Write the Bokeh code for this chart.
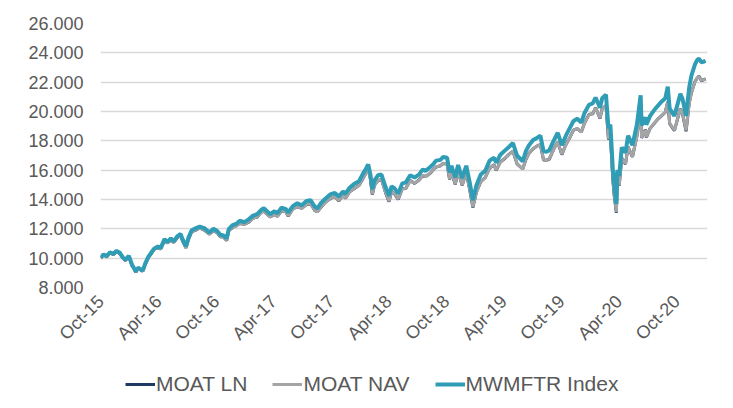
from datetime import datetime
from bokeh.plotting import figure
from bokeh.layouts import column
from bokeh.models import FixedTicker, Legend, LegendItem, Range1d, ColumnDataSource
from bokeh.embed import file_html
from bokeh.resources import INLINE

# ---------------- data ----------------
dates = [
    "2015-10-01", "2015-10-09", "2015-10-20", "2015-10-30", "2015-11-10", "2015-11-20", "2015-12-01", "2015-12-10", "2015-12-18", "2015-12-29",
    "2016-01-08", "2016-01-15", "2016-01-20", "2016-01-27", "2016-02-05", "2016-02-11", "2016-02-19", "2016-02-29", "2016-03-08", "2016-03-18",
    "2016-03-30", "2016-04-08", "2016-04-20", "2016-04-29", "2016-05-10", "2016-05-19", "2016-05-31", "2016-06-10", "2016-06-16", "2016-06-27",
    "2016-07-05", "2016-07-15", "2016-07-29", "2016-08-10", "2016-08-24", "2016-09-09", "2016-09-22", "2016-10-04", "2016-10-14", "2016-10-24",
    "2016-11-03", "2016-11-10", "2016-11-22", "2016-12-05", "2016-12-14", "2016-12-30", "2017-01-12", "2017-01-26", "2017-02-08", "2017-02-21",
    "2017-03-01", "2017-03-21", "2017-04-04", "2017-04-13", "2017-04-26", "2017-05-10", "2017-05-17", "2017-06-01", "2017-06-15", "2017-06-29",
    "2017-07-14", "2017-07-27", "2017-08-10", "2017-08-18", "2017-08-29", "2017-09-12", "2017-09-28", "2017-10-12", "2017-10-25", "2017-11-07",
    "2017-11-15", "2017-11-28", "2017-12-12", "2017-12-28", "2018-01-09", "2018-01-19", "2018-01-26", "2018-02-02", "2018-02-08", "2018-02-15",
    "2018-02-26", "2018-03-09", "2018-03-22", "2018-04-02", "2018-04-10", "2018-04-20", "2018-05-01", "2018-05-14", "2018-05-25", "2018-06-08",
    "2018-06-22", "2018-07-06", "2018-07-18", "2018-07-27", "2018-08-10", "2018-08-22", "2018-08-29", "2018-09-12", "2018-09-21", "2018-10-03",
    "2018-10-11", "2018-10-17", "2018-10-29", "2018-11-07", "2018-11-20", "2018-12-03", "2018-12-14", "2018-12-24", "2019-01-04", "2019-01-18",
    "2019-02-01", "2019-02-15", "2019-03-01", "2019-03-08", "2019-03-21", "2019-04-05", "2019-04-18", "2019-04-30", "2019-05-13", "2019-05-31",
    "2019-06-10", "2019-06-20", "2019-07-03", "2019-07-15", "2019-07-26", "2019-08-05", "2019-08-14", "2019-08-23", "2019-09-06", "2019-09-19",
    "2019-10-02", "2019-10-15", "2019-10-28", "2019-11-08", "2019-11-20", "2019-12-03", "2019-12-13", "2019-12-27", "2020-01-08", "2020-01-17",
    "2020-01-31", "2020-02-07", "2020-02-19", "2020-02-27", "2020-03-04", "2020-03-12", "2020-03-16", "2020-03-23", "2020-03-26", "2020-04-01",
    "2020-04-09", "2020-04-21", "2020-04-29", "2020-05-13", "2020-05-27", "2020-06-08", "2020-06-11", "2020-06-23", "2020-06-26", "2020-07-08",
    "2020-07-21", "2020-07-31", "2020-08-12", "2020-08-25", "2020-09-02", "2020-09-08", "2020-09-23", "2020-10-12", "2020-10-19", "2020-10-30",
    "2020-11-09", "2020-11-16", "2020-11-27", "2020-12-04", "2020-12-10", "2020-12-18", "2020-12-31",
]

mwmftr_index = [
    10050, 10250, 10150, 10400, 10300, 10500, 10350, 10050, 9900, 10150,
    9550, 9300, 9100, 9350, 9250, 9150, 9650, 10100, 10350, 10650,
    10800, 10700, 11300, 11100, 11350, 11150, 11500, 11650, 11300, 10800,
    11400, 11900, 12050, 12150, 12050, 11750, 12000, 11850, 11600, 11550,
    11350, 12000, 12250, 12350, 12550, 12450, 12650, 12900, 13000, 13300,
    13400, 13000, 13200, 13050, 13450, 13350, 13100, 13550, 13750, 13600,
    13900, 13950, 13500, 13400, 13750, 14050, 14350, 14450, 14200, 14550,
    14400, 14800, 15050, 15250, 15750, 16100, 16400, 15700, 14700, 15300,
    15650, 15700, 14850, 14250, 14900, 14750, 14400, 15100, 15150, 15650,
    15500, 15700, 16050, 15950, 16200, 16450, 16650, 16700, 16900, 16850,
    15850, 16300, 15500, 16350, 15450, 16300, 15150, 13950, 14950, 15700,
    15950, 16650, 16850, 16500, 17050, 17350, 17600, 17850, 17000, 16600,
    17300, 17700, 18050, 18200, 18350, 17300, 17250, 17350, 18000, 18550,
    17700, 18350, 18900, 19350, 19500, 19250, 19900, 20450, 20550, 20950,
    20250, 20900, 21150, 18850, 19100, 16000, 15000, 13700, 16000, 15600,
    17550, 17200, 18350, 17700, 19100, 21100, 19050, 19600, 19100, 19700,
    20100, 20350, 20650, 20900, 21700, 20200, 19700, 21200, 20850, 19700,
    21650, 22450, 23200, 23500, 23600, 23350, 23450,
]

moat_nav = [
    10020, 10210, 10110, 10360, 10260, 10460, 10300, 10000, 9850, 10100,
    9500, 9250, 9050, 9300, 9200, 9100, 9600, 10040, 10290, 10590,
    10730, 10620, 11220, 11020, 11260, 11060, 11410, 11560, 11200, 10690,
    11300, 11790, 11940, 12040, 11930, 11630, 11880, 11730, 11480, 11430,
    11220, 11870, 12110, 12200, 12390, 12290, 12480, 12720, 12820, 13120,
    13210, 12800, 13000, 12840, 13240, 13140, 12890, 13330, 13530, 13380,
    13670, 13710, 13260, 13150, 13490, 13790, 14090, 14180, 13920, 14270,
    14110, 14510, 14750, 14950, 15440, 15780, 16080, 15380, 14360, 14970,
    15310, 15350, 14490, 13880, 14540, 14380, 14030, 14720, 14770, 15270,
    15120, 15310, 15650, 15550, 15790, 16040, 16230, 16280, 16480, 16420,
    15410, 15850, 15050, 15890, 14990, 15830, 14680, 13500, 14480, 15230,
    15470, 16160, 16350, 16000, 16540, 16830, 17070, 17310, 16460, 16060,
    16750, 17140, 17480, 17620, 17760, 16720, 16660, 16760, 17400, 17940,
    17090, 17730, 18270, 18710, 18850, 18590, 19230, 19770, 19860, 20250,
    19550, 20180, 20420, 18150, 18380, 15350, 14380, 13150, 15370, 14980,
    16800, 16440, 17570, 16920, 18290, 20250, 18220, 18750, 18250, 18830,
    19200, 19430, 19700, 19930, 20700, 19200, 18720, 20180, 19840, 18700,
    20550, 21300, 22000, 22280, 22370, 22120, 22200,
]

moat_ln = [
    10000, 10230, 10090, 10380, 10240, 10470, 10280, 10010, 9830, 10120,
    9480, 9270, 9030, 9320, 9180, 9120, 9580, 10060, 10270, 10610,
    10710, 10640, 11200, 11040, 11240, 11080, 11390, 11580, 11180, 10710,
    11280, 11810, 11920, 12060, 11910, 11650, 11860, 11750, 11460, 11450,
    11200, 11890, 12090, 12220, 12370, 12310, 12460, 12740, 12800, 13140,
    13190, 12820, 12980, 12860, 13220, 13160, 12870, 13350, 13510, 13400,
    13650, 13730, 13240, 13170, 13470, 13810, 14070, 14200, 13900, 14290,
    14090, 14530, 14730, 14970, 15420, 15800, 16060, 15400, 14330, 14990,
    15290, 15370, 14470, 13850, 14560, 14360, 14000, 14740, 14750, 15290,
    15100, 15330, 15630, 15570, 15770, 16060, 16210, 16300, 16460, 16440,
    15380, 15870, 15030, 15910, 14960, 15850, 14650, 13460, 14500, 15210,
    15490, 16140, 16370, 15980, 16560, 16810, 17090, 17290, 16430, 16080,
    16730, 17160, 17460, 17640, 17740, 16690, 16680, 16740, 17420, 17920,
    17060, 17750, 18250, 18730, 18830, 18610, 19210, 19790, 19840, 20270,
    19520, 20200, 20400, 18100, 18400, 15300, 14300, 13100, 15400, 14950,
    16820, 16410, 17590, 16900, 18310, 20230, 18200, 18770, 18230, 18850,
    19180, 19450, 19680, 19950, 20680, 19170, 18700, 20200, 19820, 18650,
    20580, 21280, 22030, 22260, 22400, 22100, 22230,
]

series_names = ["MOAT LN", "MOAT NAV", "MWMFTR Index"]
series_colors = ["#203864", "#A5A5A5", "#2F9DB5"]

x_tick_dates = ["2015-10-01", "2016-04-01", "2016-10-01", "2017-04-01", "2017-10-01", "2018-04-01",
                "2018-10-01", "2019-04-01", "2019-10-01", "2020-04-01", "2020-10-01"]
x_tick_labels = ["Oct-15", "Apr-16", "Oct-16", "Apr-17", "Oct-17", "Apr-18",
                 "Oct-18", "Apr-19", "Oct-19", "Apr-20", "Oct-20"]

y_ticks = [8000, 10000, 12000, 14000, 16000, 18000, 20000, 22000, 24000, 26000]
y_tick_labels = ["8.000", "10.000", "12.000", "14.000", "16.000", "18.000", "20.000", "22.000", "24.000", "26.000"]

# ---------------- build ----------------
def to_dt(s):
    return datetime.strptime(s, "%Y-%m-%d")

def to_ms(s):
    return int((to_dt(s) - datetime(1970, 1, 1)).total_seconds() * 1000)

n = min(len(dates), len(mwmftr_index), len(moat_nav), len(moat_ln))
src = ColumnDataSource(dict(
    x=[to_dt(d) for d in dates[:n]],
    ln=moat_ln[:n], nav=moat_nav[:n], idx=mwmftr_index[:n],
))

FONT = "Liberation Sans"
TXT = "#595959"
W = 725

p = figure(width=W, height=360, x_axis_type="datetime",
           output_backend="svg", toolbar_location=None,
           x_range=Range1d(to_dt("2015-09-30"), to_dt("2021-01-06")),
           y_range=Range1d(8000, 26000))
p.min_border_left = 100
p.min_border_right = 18
p.min_border_top = 23
p.min_border_bottom = 73
p.outline_line_color = None

widths = [3, 3, 4]
cols = ["ln", "nav", "idx"]
for c, col, w in zip(cols, series_colors, widths):
    p.line("x", c, source=src, line_color=col, line_width=w)

xt = [to_ms(d) for d in x_tick_dates]
p.xaxis.ticker = FixedTicker(ticks=xt)
p.xaxis.major_label_overrides = {t: lab for t, lab in zip(xt, x_tick_labels)}
p.xaxis.major_label_orientation = 0.785398
p.yaxis.ticker = FixedTicker(ticks=y_ticks)
p.yaxis.major_label_overrides = {t: lab for t, lab in zip(y_ticks, y_tick_labels)}

for ax in (p.xaxis, p.yaxis):
    ax.axis_line_color = None
    ax.major_tick_line_color = None
    ax.minor_tick_line_color = None
    ax.major_tick_out = 0
    ax.major_tick_in = 0
    ax.major_label_text_font = FONT
    ax.major_label_text_font_size = "18px"
    ax.major_label_text_color = TXT
p.yaxis.major_label_standoff = 17
p.xaxis.major_label_standoff = 11

p.xgrid.grid_line_color = None
p.ygrid.grid_line_color = "#D9D9D9"
p.ygrid.grid_line_width = 1.5

# legend strip below the chart (its frame is aligned with the chart's frame)
lg = figure(width=W, height=40, output_backend="svg", toolbar_location=None,
            x_range=Range1d(0, 1), y_range=Range1d(0, 1),
            x_axis_location=None, y_axis_location=None, min_border=0)
lg.outline_line_color = None
lg.grid.visible = False
items = []
for name, col, w in zip(series_names, series_colors, widths):
    r = lg.line([0, 1], [-5, -5], line_color=col, line_width=w)
    items.append(LegendItem(label=name, renderers=[r]))
legend = Legend(items=items, orientation="horizontal", location=(25, 4))
legend.label_text_font = FONT
legend.label_text_font_size = "21px"
legend.label_text_color = TXT
legend.glyph_width = 30
legend.label_standoff = 1
legend.spacing = 25
legend.padding = 4
legend.margin = 0
legend.border_line_color = None
legend.background_fill_alpha = 0
lg.add_layout(legend, "center")

layout = column(p, lg, spacing=0)
open("out.html", "w").write(file_html(layout, INLINE))
